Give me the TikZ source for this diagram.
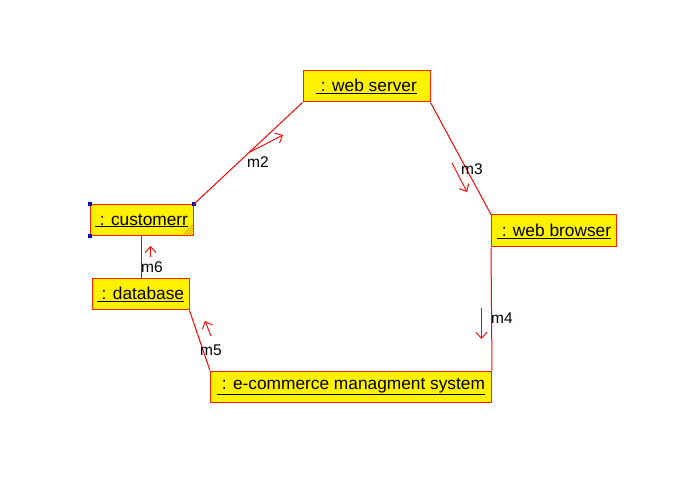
\documentclass[tikz,border=0pt]{standalone}
\usepackage{fontspec}
\setmainfont{Liberation Sans}
\usetikzlibrary{arrows.meta,positioning,calc}

\begin{document}
\begin{tikzpicture}[x=1pt,y=-1pt,
    obj/.style={draw=red!75!orange,fill=yellow,line width=1pt,inner sep=0pt,
        font=\fontsize{17.3}{20}\selectfont},
    link/.style={draw=red,line width=1pt},
    msg/.style={draw=red,line width=0.9pt,-{Straight Barb[length=6pt,width=11pt]}},
    lbl/.style={font=\fontsize{15.5}{18}\selectfont,inner sep=1pt}]
    \useasboundingbox (0,0) rectangle (688,478);
    % objects
    \node[obj,minimum width=127pt,minimum height=31pt] (websrv) at (366.5,86.5) {\underline{\ : web server}};
    \node[obj,minimum width=103pt,minimum height=31pt] (cust) at (141.5,220.5) {\underline{\ : customerr}};
    \node[obj,minimum width=97pt,minimum height=31pt] (db) at (140.5,294.5) {\underline{\ : database}};
    \node[obj,minimum width=125pt,minimum height=32pt] (browser) at (554,231) {\underline{\ : web browser}};
    \node[obj,minimum width=281pt,minimum height=31pt] (ecom) at (351,386.5) {\underline{\ : e-commerce managment system}};
    % selection marks on customerr
    \foreach \c in {north west,north east,south west}
        \fill[blue!70!black] ($(cust.\c)+(-2,-2)$) rectangle ++(4,4);
    \foreach \d in {0,3,6,9}
        \draw[orange,line width=0.6pt] ($(cust.south east)+(-\d-3,0)$) -- ($(cust.south east)+(0,-\d-3)$);
    % links
    \draw[link] (cust.north east) -- (websrv.south west);
    \draw[link] (websrv.south east) -- (browser.north west);
    \draw[link] (browser.south west) -- (ecom.north east);
    \draw[link] (ecom.north west) -- (db.south east);
    \draw[link] (cust.south -| 141.5,0) -- (db.north -| 141.5,0);
    % messages
    \coordinate (m2a) at (250,152); \coordinate (m2b) at (283,135);
    \coordinate (m3a) at (452,163); \coordinate (m3b) at (467,192);
    \coordinate (m4a) at (481.5,308); \coordinate (m4b) at (481.5,339);
    \coordinate (m5a) at (211,336); \coordinate (m5b) at (205,321);
    \coordinate (m6a) at (150.5,257); \coordinate (m6b) at (150.5,246);
    \draw[msg] (m2a) -- (m2b);
    \draw[msg] (m3a) -- (m3b);
    \draw[msg] (m4a) -- (m4b);
    \draw[msg] (m5a) -- (m5b);
    \draw[msg] (m6a) -- (m6b);
    \node[lbl] (l2) at (258,162) {m2};
    \node[lbl] (l3) at (472,169) {m3};
    \node[lbl] (l4) at (502,318) {m4};
    \node[lbl] (l5) at (211,350) {m5};
    \node[lbl] (l6) at (152,267) {m6};
\end{tikzpicture}
\end{document}
